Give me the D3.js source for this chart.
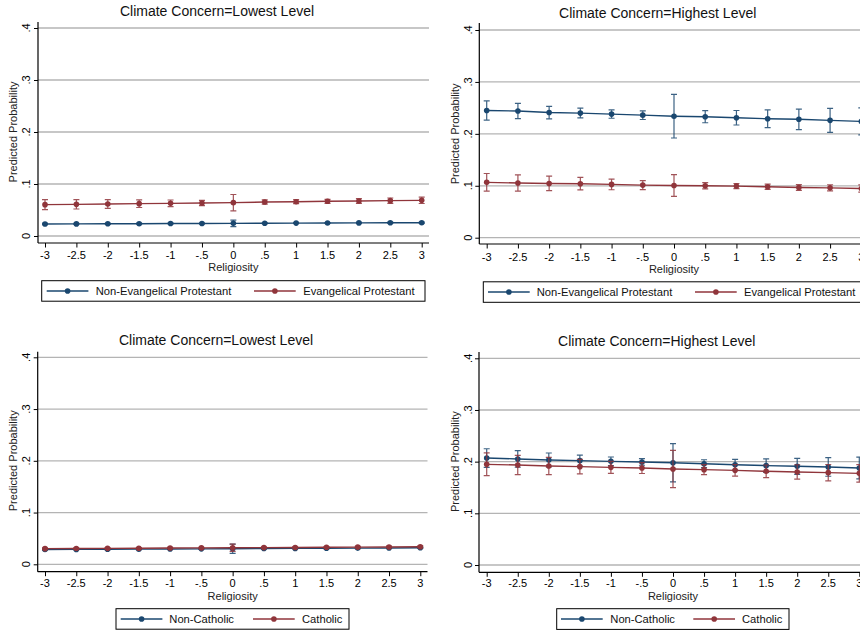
<!DOCTYPE html>
<html>
<head>
<meta charset="utf-8">
<title>Predicted probability by religiosity</title>
<script src="https://cdn.jsdelivr.net/npm/d3@7/dist/d3.min.js"></script>
<style>
  body { margin: 0; background: #fff; }
  svg { display: block; font-family: "Liberation Sans", Arial, Helvetica, sans-serif; }
</style>
</head>
<body>
<div id="chart"></div>
<script>
// x values and tick labels
const religiosity = [-3, -2.5, -2, -1.5, -1, -0.5, 0, 0.5, 1, 1.5, 2, 2.5, 3];
const xTickLabels = ["-3", "-2.5", "-2", "-1.5", "-1", "-.5", "0", ".5", "1", "1.5", "2", "2.5", "3"];
const yTickValues = [0, 0.1, 0.2, 0.3, 0.4];
const yTickLabels = ["0", ".1", ".2", ".3", ".4"];

const titleLowest = "Climate Concern=Lowest Level";
const titleHighest = "Climate Concern=Highest Level";
const xTitle = "Religiosity";
const yTitle = "Predicted Probability";
const evangLabels = ["Non-Evangelical Protestant", "Evangelical Protestant"];
const cathLabels = ["Non-Catholic", "Catholic"];

// top left: lowest concern, evangelical split (estimate, CI half width)
const lowNonEvang   = [0.0231, 0.0233, 0.0235, 0.0237, 0.0239, 0.0241, 0.0243, 0.0246, 0.0248, 0.025, 0.0252, 0.0254, 0.0256];
const lowNonEvangCI = [0.0012, 0.0011, 0.001, 0.0009, 0.0008, 0.0008, 0.0064, 0.0008, 0.0008, 0.0009, 0.001, 0.0011, 0.0012];
const lowEvang      = [0.0603, 0.0609, 0.0615, 0.0622, 0.0628, 0.0635, 0.0641, 0.0654, 0.066, 0.0667, 0.0673, 0.068, 0.0686];
const lowEvangCI    = [0.0096, 0.009, 0.0083, 0.0074, 0.0064, 0.0051, 0.0157, 0.0042, 0.0038, 0.0038, 0.0045, 0.0051, 0.0061];

// top right: highest concern, evangelical split
const highNonEvang   = [0.245, 0.244, 0.241, 0.240, 0.238, 0.236, 0.234, 0.233, 0.231, 0.229, 0.228, 0.226, 0.224];
const highNonEvangCI = [0.0185, 0.0145, 0.012, 0.0094, 0.008, 0.0084, 0.042, 0.0116, 0.014, 0.017, 0.0197, 0.023, 0.026];
const highEvang      = [0.1066, 0.1053, 0.1045, 0.104, 0.1026, 0.1013, 0.1006, 0.1, 0.0994, 0.098, 0.0968, 0.096, 0.0948];
const highEvangCI    = [0.017, 0.0155, 0.014, 0.012, 0.0103, 0.0087, 0.021, 0.006, 0.005, 0.005, 0.0055, 0.006, 0.007];

// bottom left: lowest concern, catholic split
const lowNonCath   = [0.0285, 0.0288, 0.029, 0.0293, 0.0296, 0.0299, 0.0301, 0.0304, 0.0307, 0.031, 0.0313, 0.0316, 0.0319];
const lowNonCathCI = [0.0012, 0.0011, 0.001, 0.001, 0.0009, 0.0009, 0.009, 0.0009, 0.0009, 0.001, 0.001, 0.0011, 0.0012];
const lowCath      = [0.0302, 0.0305, 0.0308, 0.0311, 0.0314, 0.0317, 0.032, 0.0323, 0.0326, 0.0329, 0.0332, 0.0335, 0.0339];
const lowCathCI    = [0.0016, 0.0015, 0.0014, 0.0013, 0.0012, 0.0012, 0.007, 0.0012, 0.0012, 0.0013, 0.0014, 0.0015, 0.0016];

// bottom right: highest concern, catholic split
const highNonCath   = [0.207, 0.2052, 0.2032, 0.2019, 0.2006, 0.1994, 0.198, 0.196, 0.194, 0.1923, 0.191, 0.1897, 0.1877];
const highNonCathCI = [0.018, 0.016, 0.0135, 0.0106, 0.0084, 0.0064, 0.037, 0.0077, 0.0103, 0.0129, 0.0155, 0.018, 0.021];
const highCath      = [0.1948, 0.1935, 0.1916, 0.1903, 0.189, 0.1877, 0.1858, 0.1845, 0.1832, 0.1813, 0.18, 0.1787, 0.1774];
const highCathCI    = [0.022, 0.0187, 0.0168, 0.014, 0.0116, 0.0106, 0.036, 0.0097, 0.0113, 0.0122, 0.014, 0.0158, 0.017];

const blue = '#1a476f', red = '#90353b';

// panel layout (pixel positions)
const panels = [
  { title: titleLowest, labels: evangLabels,
    series: [[lowNonEvang, lowNonEvangCI], [lowEvang, lowEvangCI]],
    axisX: 38, xLeft: 45, xRight: 421.7, y0: 236, y4: 28, axisY: 243, top: 22, right: 429,
    titleX: 217, titleY: 16, yLabelX: 29.5, yTitleX: 16.5, tickLabelY: 259, xTitleY: 271,
    legend: { x: 41.7, y: 280.7, w: 383.3, h: 20.5, items: [[46.7, 95.7], [254, 303.3]] } },
  { title: titleHighest, labels: evangLabels,
    series: [[highNonEvang, highNonEvangCI], [highEvang, highEvangCI]],
    axisX: 479.3, xLeft: 486.7, xRight: 861.3, y0: 237.7, y4: 30, axisY: 244, top: 23, right: 875,
    titleX: 657.7, titleY: 18, yLabelX: 471.5, yTitleX: 458.5, tickLabelY: 261, xTitleY: 273,
    legend: { x: 483.3, y: 281.8, w: 400, h: 20.5, items: [[488, 536.7], [695, 744]] } },
  { title: titleLowest, labels: cathLabels,
    series: [[lowNonCath, lowNonCathCI], [lowCath, lowCathCI]],
    axisX: 37.7, xLeft: 45, xRight: 420.3, y0: 564.3, y4: 357.3, axisY: 571.7, top: 351.7, right: 427.5,
    titleX: 216, titleY: 345, yLabelX: 29.5, yTitleX: 16.5, tickLabelY: 587, xTitleY: 600,
    legend: { x: 116, y: 608.7, w: 233, h: 20.5, items: [[120.7, 169.3], [253, 302]] } },
  { title: titleHighest, labels: cathLabels,
    series: [[highNonCath, highNonCathCI], [highCath, highCathCI]],
    axisX: 479, xLeft: 486.7, xRight: 859.3, y0: 565, y4: 358.3, axisY: 572.3, top: 352, right: 875,
    titleX: 656.7, titleY: 346, yLabelX: 471.5, yTitleX: 458.5, tickLabelY: 587, xTitleY: 600,
    legend: { x: 556.7, y: 608.7, w: 232.3, h: 20.7, items: [[561, 610.3], [693.3, 742]] } }
];

const colors = [blue, red];

const svg = d3.select('#chart').append('svg')
  .attr('width', 860)
  .attr('height', 632);

function drawPanel(p) {
  const g = svg.append('g');
  const x = d3.scaleLinear().domain([-3, 3]).range([p.xLeft, p.xRight]);
  const y = d3.scaleLinear().domain([0, 0.4]).range([p.y0, p.y4]);

  // gridlines
  g.append('g').selectAll('line')
    .data(yTickValues)
    .join('line')
      .attr('x1', p.axisX).attr('x2', p.right)
      .attr('y1', d => y(d)).attr('y2', d => y(d))
      .attr('stroke', '#b4b4b4')
      .attr('stroke-width', 1.3);

  // y axis
  const yAxis = g.append('g')
    .attr('transform', `translate(${p.axisX},0)`)
    .call(d3.axisLeft(y).tickValues(yTickValues).tickSize(4).tickFormat(''));
  yAxis.select('.domain').remove();
  yAxis.selectAll('.tick line').attr('stroke', '#000');
  g.append('line')
    .attr('x1', p.axisX).attr('x2', p.axisX)
    .attr('y1', p.top).attr('y2', p.axisY)
    .attr('stroke', '#000').attr('stroke-width', 1.2);

  g.append('g').selectAll('text')
    .data(yTickValues)
    .join('text')
      .attr('transform', (d, i) => `translate(${p.yLabelX},${y(d)}) rotate(-90)`)
      .attr('text-anchor', 'middle')
      .attr('font-size', 11)
      .attr('fill', '#000')
      .text((d, i) => yTickLabels[i]);

  g.append('text')
    .attr('transform', `translate(${p.yTitleX},${(p.y0 + p.y4) / 2}) rotate(-90)`)
    .attr('text-anchor', 'middle')
    .attr('font-size', 11)
    .attr('fill', '#222')
    .text(yTitle);

  // x axis
  const xAxis = g.append('g')
    .attr('transform', `translate(0,${p.axisY})`)
    .call(d3.axisBottom(x).tickValues(religiosity).tickSize(4.5).tickFormat(''));
  xAxis.select('.domain').remove();
  xAxis.selectAll('.tick line').attr('stroke', '#000');
  g.append('line')
    .attr('x1', p.axisX).attr('x2', p.right)
    .attr('y1', p.axisY).attr('y2', p.axisY)
    .attr('stroke', '#000').attr('stroke-width', 1.2);

  g.append('g').selectAll('text')
    .data(religiosity)
    .join('text')
      .attr('x', d => x(d))
      .attr('y', p.tickLabelY)
      .attr('text-anchor', 'middle')
      .attr('font-size', 11)
      .attr('fill', '#000')
      .text((d, i) => xTickLabels[i]);

  g.append('text')
    .attr('x', x(0))
    .attr('y', p.xTitleY)
    .attr('text-anchor', 'middle')
    .attr('font-size', 11)
    .attr('fill', '#222')
    .text(xTitle);

  // title
  g.append('text')
    .attr('x', p.titleX)
    .attr('y', p.titleY)
    .attr('text-anchor', 'middle')
    .attr('font-size', 14)
    .attr('fill', '#111')
    .text(p.title);

  // series: error bars, line, markers
  p.series.forEach(([est, ci], s) => {
    const col = colors[s];
    const pts = religiosity.map((r, i) => ({ r, v: est[i], h: ci[i] }));
    const sg = g.append('g');

    sg.selectAll('path.ci')
      .data(pts)
      .join('path')
        .attr('class', 'ci')
        .attr('d', d => {
          const cx = x(d.r), lo = y(d.v - d.h), hi = y(d.v + d.h);
          return `M${cx - 3},${hi}H${cx + 3}M${cx},${hi}V${lo}M${cx - 3},${lo}H${cx + 3}`;
        })
        .attr('fill', 'none')
        .attr('stroke', col)
        .attr('stroke-opacity', 0.85)
        .attr('stroke-width', 1.2);

    sg.append('path')
      .datum(pts)
      .attr('d', d3.line().x(d => x(d.r)).y(d => y(d.v)))
      .attr('fill', 'none')
      .attr('stroke', col)
      .attr('stroke-width', 1.4);

    sg.selectAll('circle')
      .data(pts)
      .join('circle')
        .attr('cx', d => x(d.r))
        .attr('cy', d => y(d.v))
        .attr('r', 2.8)
        .attr('fill', col);
  });

  // legend
  const L = p.legend;
  const lg = g.append('g');
  lg.append('rect')
    .attr('x', L.x).attr('y', L.y)
    .attr('width', L.w).attr('height', L.h)
    .attr('fill', '#fff')
    .attr('stroke', '#000')
    .attr('stroke-width', 1);
  const cy = L.y + L.h / 2;
  L.items.forEach(([lx, tx], i) => {
    lg.append('line')
      .attr('x1', lx).attr('x2', lx + 41.7)
      .attr('y1', cy).attr('y2', cy)
      .attr('stroke', colors[i])
      .attr('stroke-width', 1.4);
    lg.append('circle')
      .attr('cx', lx + 20.9).attr('cy', cy)
      .attr('r', 2.8)
      .attr('fill', colors[i]);
    lg.append('text')
      .attr('x', tx).attr('y', cy + 4)
      .attr('font-size', 11.2)
      .attr('fill', '#111')
      .text(p.labels[i]);
  });
}

panels.forEach(drawPanel);
</script>
</body>
</html>
